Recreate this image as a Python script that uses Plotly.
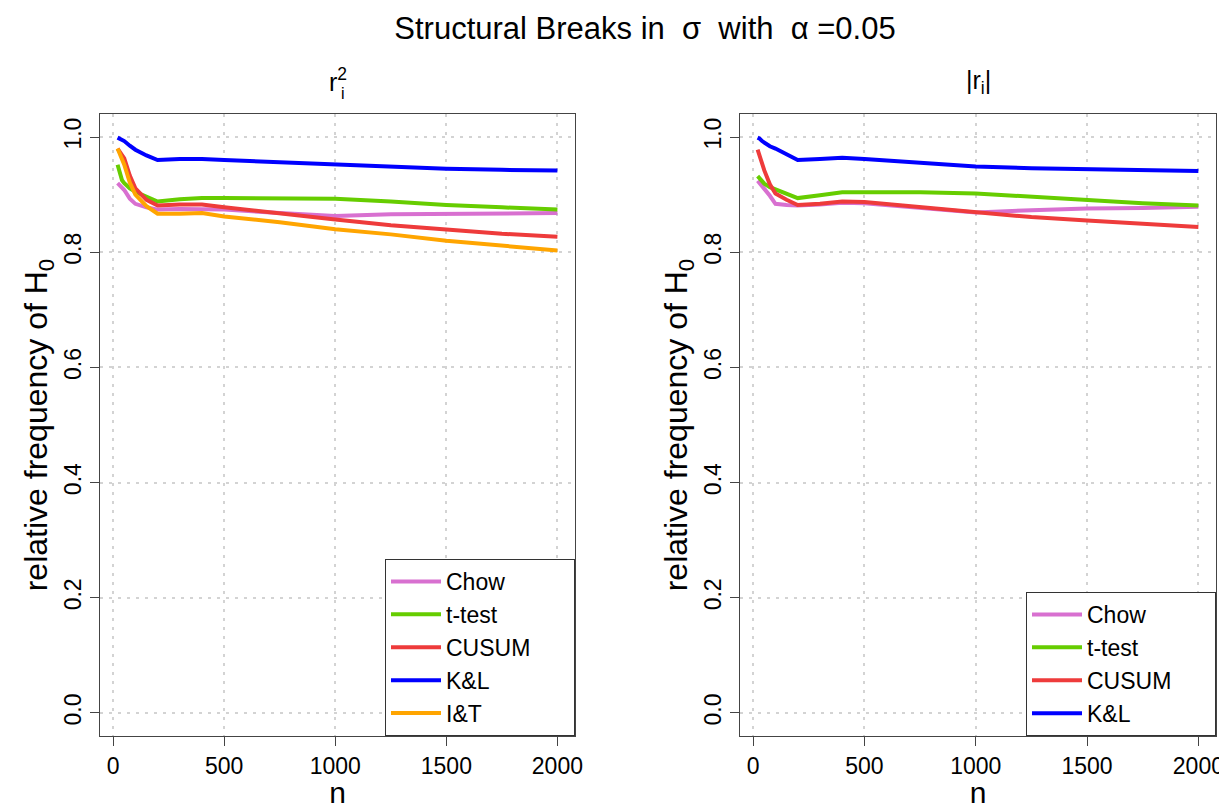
import plotly.graph_objects as go

# ---------------- data ----------------
n = [20, 30, 40, 50, 75, 100, 150, 200, 300, 400, 500, 750, 1000, 1250, 1500, 1750, 2000]

# left panel: r_i^2
sq_chow  = [0.920, 0.916, 0.913, 0.908, 0.893, 0.884, 0.878, 0.874, 0.875, 0.875, 0.874, 0.868, 0.863, 0.866, 0.867, 0.868, 0.868]
sq_ttest = [0.952, 0.935, 0.925, 0.920, 0.911, 0.905, 0.896, 0.888, 0.892, 0.894, 0.894, 0.894, 0.893, 0.888, 0.882, 0.878, 0.874]
sq_cusum = [0.980, 0.975, 0.970, 0.963, 0.933, 0.911, 0.891, 0.881, 0.883, 0.883, 0.878, 0.867, 0.857, 0.847, 0.839, 0.832, 0.827]
sq_kl    = [0.999, 0.997, 0.995, 0.993, 0.985, 0.978, 0.968, 0.960, 0.962, 0.962, 0.960, 0.956, 0.952, 0.948, 0.945, 0.943, 0.942]
sq_it    = [0.980, 0.970, 0.961, 0.952, 0.921, 0.900, 0.880, 0.867, 0.867, 0.868, 0.862, 0.852, 0.840, 0.831, 0.820, 0.811, 0.803]

# right panel: |r_i|
ab_chow  = [0.924, 0.920, 0.915, 0.910, 0.898, 0.884, 0.882, 0.881, 0.883, 0.886, 0.885, 0.877, 0.869, 0.873, 0.876, 0.877, 0.879]
ab_ttest = [0.932, 0.928, 0.923, 0.919, 0.913, 0.909, 0.902, 0.894, 0.899, 0.904, 0.904, 0.904, 0.902, 0.896, 0.891, 0.885, 0.881]
ab_cusum = [0.978, 0.965, 0.952, 0.942, 0.918, 0.902, 0.891, 0.882, 0.884, 0.888, 0.887, 0.878, 0.870, 0.861, 0.855, 0.850, 0.844]
ab_kl    = [0.999, 0.997, 0.993, 0.990, 0.984, 0.980, 0.970, 0.960, 0.962, 0.964, 0.962, 0.956, 0.949, 0.946, 0.944, 0.942, 0.941]

x_ticks = [0, 500, 1000, 1500, 2000]
y_ticks = [0.0, 0.2, 0.4, 0.6, 0.8, 1.0]

names = ["Chow", "t-test", "CUSUM", "K&L", "I&T"]
colors = ["#D870D0", "#66CD00", "#EE3B3B", "#0000FF", "#FFA500"]

FONT = "Liberation Sans, Arial, sans-serif"
PAD = "\u00a0" * 6

# the page places the figure 8 px from the top-left corner
W, H = 1219, 801

fig = go.Figure()

left_series = [sq_chow, sq_ttest, sq_cusum, sq_kl, sq_it]
for name, col, ys in zip(names, colors, left_series):
    fig.add_trace(go.Scatter(x=n, y=ys, mode="lines", name=name + PAD,
                             line=dict(color=col, width=4),
                             xaxis="x", yaxis="y", legend="legend"))

right_series = [ab_chow, ab_ttest, ab_cusum, ab_kl]
for name, col, ys in zip(names[:4], colors[:4], right_series):
    fig.add_trace(go.Scatter(x=n, y=ys, mode="lines", name=name + PAD,
                             line=dict(color=col, width=4),
                             xaxis="x2", yaxis="y2", legend="legend2"))

axis_common = dict(
    showline=True, mirror=True, linecolor="#444", linewidth=1,
    ticks="outside", ticklen=9, tickcolor="#444", tickwidth=1,
    showgrid=True, gridcolor="#d3d3d3", gridwidth=2, griddash="3px,6px",
    zeroline=False, automargin=False,
    tickfont=dict(size=23, color="black", family=FONT),
)

xr = [-59.2, 2079.2]
yr = [-0.04, 1.04]

legend_common = dict(
    y=0, yanchor="bottom", bgcolor="white", bordercolor="#333", borderwidth=1,
    font=dict(size=23, family=FONT, color="black"), itemwidth=50, tracegroupgap=0,
)

ytitle = "relative frequency of H<sub>0</sub>"

fig.update_layout(
    width=W, height=H,
    margin=dict(l=92, r=11, t=106, b=73, autoexpand=False),
    paper_bgcolor="white", plot_bgcolor="white",
    font=dict(family=FONT, color="black"),
    showlegend=True,
    title=dict(text="Structural Breaks in\u00a0 σ\u00a0 with\u00a0 α =0.05",
               x=637 / W, xref="container", xanchor="center",
               y=1 - 20 / H, yref="container", yanchor="middle",
               font=dict(size=31, family=FONT, color="black")),
    xaxis=dict(domain=[0, 0.42563], range=xr, tickvals=x_ticks, anchor="y",
               title=dict(text="n", font=dict(size=30)), **axis_common),
    yaxis=dict(domain=[0, 1], range=yr, tickvals=y_ticks, tickformat=".1f", tickangle=-90,
               anchor="x",
               title=dict(text=ytitle, font=dict(size=32), standoff=2),
               **axis_common),
    xaxis2=dict(domain=[0.57348, 1], range=xr, tickvals=x_ticks, anchor="y2",
                title=dict(text="n", font=dict(size=30)), **axis_common),
    yaxis2=dict(domain=[0, 1], range=yr, tickvals=y_ticks, tickformat=".1f", tickangle=-90,
                anchor="x2",
                title=dict(text=ytitle, font=dict(size=32), standoff=2),
                **axis_common),
    legend=dict(x=0.42563, xanchor="right", **legend_common),
    legend2=dict(x=1, xanchor="right", **legend_common),
    annotations=[
        dict(text="r<sup>2</sup>", xref="x domain", yref="paper", x=0.5, y=1,
             xanchor="center", yanchor="bottom", yshift=16, showarrow=False,
             font=dict(size=25, family=FONT, color="black")),
        dict(text="i", xref="x domain", yref="paper", x=0.5, y=1,
             xanchor="center", yanchor="bottom", xshift=5, yshift=10, showarrow=False,
             font=dict(size=16, family=FONT, color="black")),
        dict(text="|r<sub>i</sub>|", xref="x2 domain", yref="paper", x=0.5, y=1,
             xanchor="center", yanchor="bottom", yshift=14, showarrow=False,
             font=dict(size=25, family=FONT, color="black")),
    ],
)

fig.write_html("out.html")
